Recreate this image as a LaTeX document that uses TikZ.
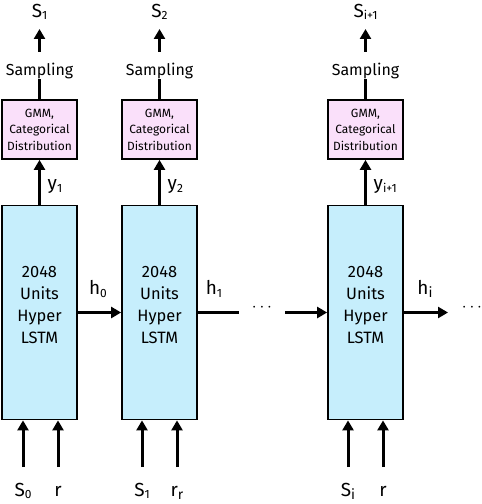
\documentclass[tikz,border=0pt]{standalone}
\usepackage{fontspec}
\setmainfont{Fira Sans}
\usetikzlibrary{arrows.meta}
\definecolor{lstmfill}{HTML}{C6EEFC}
\definecolor{gmmfill}{HTML}{FAE0FA}
\newcommand{\sbs}[1]{\raisebox{-0.25ex}{\fontsize{12}{12}\selectfont #1}}
\tikzset{
  lstm/.style={draw=black, line width=1.8bp, fill=lstmfill, minimum width=75bp, minimum height=214bp, inner sep=0pt, align=center},
  lstmtxt/.style={inner sep=0pt, align=center, font=\fontsize{16.5}{22}\selectfont},
  gmm/.style={draw=black, line width=1.8bp, fill=gmmfill, minimum width=75bp, minimum height=59bp, inner sep=0pt, align=center, font=\fontsize{12}{16.5}\selectfont},
  lbl/.style={inner sep=0pt, font=\fontsize{19}{19}\selectfont},
  samp/.style={inner sep=0pt, font=\fontsize{16}{16}\selectfont},
  arr/.style={line width=3bp, -{Triangle[width=11bp,length=10bp]}},
  ln/.style={line width=3bp},
}
\begin{document}
\begin{tikzpicture}[x=1bp,y=-1bp]
\useasboundingbox (0,0) rectangle (482,504);
\foreach \n/\cx/\sa/\ra/\sl/\rl/\ol/\yl in {1/39.5/23/58/S\sbs{0}/r/S\sbs{1}/y\sbs{1},2/159.5/142/177/S\sbs{1}/r\raisebox{-0.35ex}{\fontsize{14}{14}\selectfont r}/S\sbs{2}/y\sbs{2},3/365.5/348/383/S\raisebox{-0.35ex}{\fontsize{14}{14}\selectfont i}/r/S\sbs{i+1}/y\sbs{i+1}}{
  \node[lstm] (L\n) at (\cx,312.5) {};
  \node[lstmtxt] (T\n) at (\cx,305) {2048\\Units\\Hyper\\LSTM};
  \node[gmm] (G\n) at (\cx,129.5) {GMM,\\Categorical\\Distribution};
  \node[samp] (P\n) at (\cx,71) {Sampling};
  \node[lbl] (O\n) at (\cx,12) {\ol};
  \coordinate (a\n) at (\cx,52);
  \coordinate (b\n) at (\cx,29);
  \draw[arr] (a\n) -- (b\n);
  \draw[arr] (L\n.north) -- (G\n.south);
  \node[lbl] (Y\n) at (\cx+8,187) [anchor=west] {\yl};
  \draw[ln] (G\n.north) -- (P\n.south);
  \coordinate (sa\n) at (\sa,467);
  \coordinate (ra\n) at (\ra,467);
  \node[lbl,anchor=base] (SI\n) at (\sa,496) {\sl};
  \node[lbl,anchor=base] (RI\n) at (\ra,496) {\rl};
  \draw[arr] (sa\n) -- (sa\n |- L\n.south);
  \draw[arr] (ra\n) -- (ra\n |- L\n.south);
}
% hidden state connectors
\draw[arr] (L1.east |- 0,312.5) -- (L2.west |- 0,312.5);
\node[lbl] (H0) at (98,289) {h\sbs{0}};
\coordinate (e1) at (239,312.5);
\draw[ln] (L2.east |- 0,312.5) -- (e1);
\node[lbl] (H1) at (214,289) {h\sbs{1}};
\node[lbl] (D1) at (262,308) {$\cdots$};
\coordinate (e2) at (285,312.5);
\draw[arr] (e2) -- (L3.west |- 0,312.5);
\coordinate (e3) at (448,312.5);
\draw[arr] (L3.east |- 0,312.5) -- (e3);
\node[lbl] (H2) at (425,289) {h\raisebox{-0.35ex}{\fontsize{14}{14}\selectfont i}};
\node[lbl] (D2) at (472,308) {$\cdots$};
\end{tikzpicture}
\end{document}
